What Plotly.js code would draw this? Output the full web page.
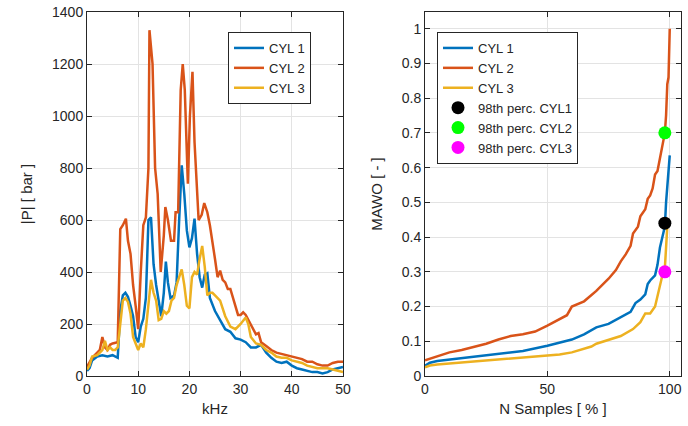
<!DOCTYPE html>
<html><head><meta charset="utf-8">
<script src="https://cdn.plot.ly/plotly-3.0.1.min.js"></script>
<style>html,body{margin:0;padding:0;background:#fff}#chart{width:688px;height:426px}</style>
</head><body><div id="chart"></div>
<script>
// ---- Left panel: spectrum |P| vs kHz ----
const cyl1F = [0,0.5,1,2,3,4,5,5.5,6,6.5,7,7.5,8,8.5,9,9.5,10,10.5,11,11.5,12,12.5,13,13.5,14,14.5,15,15.4,15.8,16.3,17,17.5,18,18.5,19,19.5,20,20.5,21,21.5,22,22.5,23,23.5,24,25,26,27,28,29,30,31,32,33,34,35,36,37,38,39,40,41,42,43,44,45,46,47,48,49,50];
const cyl1P = [20,30,60,75,80,75,80,75,70,250,310,320,305,270,230,150,130,190,220,300,600,610,430,350,290,230,320,440,360,300,310,360,600,810,700,560,495,530,605,470,380,340,390,395,300,250,215,180,170,145,140,130,110,110,120,90,70,55,50,55,40,30,25,20,15,15,10,15,25,30,35];

const cyl2F = [0,1,2,2.5,3,3.5,4,4.5,5,6,6.5,7,7.6,8,8.5,9,9.5,10,10.5,11,11.5,12,12.2,12.8,13.3,13.8,14.4,15,15.3,15.8,16.4,17,17.3,17.8,18.3,18.7,19.1,19.7,20.1,20.6,21,21.8,22.4,22.9,23.5,24,25,25.5,26,26.5,27,27.5,28,28.5,29,29.5,30,30.5,31,32,33,33.5,34,35,36,37,38,39,40,41,42,43,44,45,46,47,48,49,50];
const cyl2P = [35,70,90,100,150,110,100,120,125,130,565,580,605,520,470,350,270,180,400,580,610,800,1330,1200,800,700,400,540,650,600,520,520,630,630,1100,1200,1100,740,1000,1170,900,600,620,665,630,580,450,380,405,370,360,335,335,300,265,235,235,245,235,195,160,165,130,115,100,90,85,80,75,70,65,55,55,45,40,40,50,55,55];

const cyl3F = [0,0.5,1,2,3,3.5,4,4.5,5,5.5,6,6.5,7,7.5,8,8.5,9,9.5,10,10.5,11,11.5,12,12.5,13,13.5,14,14.5,15,15.5,16,16.5,17,17.5,18,18.5,19,19.5,20,20.5,21,21.5,22,22.5,23,23.5,24,24.5,25,26,27,28,29,30,31,31.5,32,33,34,35,36,37,38,39,40,41,42,43,44,45,46,47,48,49,50];
const cyl3P = [25,40,75,80,100,135,100,110,100,100,110,200,290,300,285,240,150,125,100,125,110,180,290,370,320,290,215,220,250,240,250,290,300,350,380,410,350,270,260,380,400,390,450,500,420,310,320,320,310,290,230,190,180,200,225,200,150,125,120,100,90,75,70,70,60,55,50,40,35,30,30,30,25,20,15];

// ---- Right panel: sorted MAWO vs N Samples [%] ----
const mawo1X = [0,2,5,10,20,30,40,50,55,60,65,70,75,80,84,86,88,90,91,92,94,95,96,97,98,98.5,99,100];
const mawo1Y = [0.03,0.038,0.043,0.047,0.055,0.065,0.072,0.087,0.095,0.105,0.12,0.14,0.15,0.17,0.185,0.21,0.22,0.235,0.265,0.275,0.29,0.32,0.37,0.4,0.43,0.5,0.55,0.635];

const mawo2X = [0,2,5,10,15,20,25,30,35,40,45,50,55,58,60,65,70,75,78,80,82,84,85,87,88,90,91,92,93,94,95,96,97,98,98.5,99,99.5,100];
const mawo2Y = [0.045,0.05,0.057,0.068,0.075,0.083,0.093,0.105,0.115,0.12,0.128,0.145,0.165,0.175,0.2,0.215,0.245,0.28,0.305,0.33,0.35,0.375,0.41,0.43,0.46,0.48,0.51,0.52,0.54,0.58,0.59,0.63,0.67,0.70,0.75,0.84,0.86,1.0];

const mawo3X = [0,2,5,10,20,30,40,50,55,60,65,68,70,75,80,85,88,90,92,94,95,96,97,98,98.5,99,100];
const mawo3Y = [0.025,0.03,0.033,0.036,0.041,0.046,0.052,0.058,0.062,0.068,0.078,0.085,0.093,0.103,0.115,0.135,0.155,0.18,0.18,0.2,0.23,0.26,0.29,0.31,0.37,0.43,0.44];

const seriesNames = ['CYL 1','CYL 2','CYL 3'];
const percNames = ['98th perc. CYL1','98th perc. CYL2','98th perc. CYL3'];
const percX = [98,98,98];
const percY = [0.44,0.70,0.30];

const colors = ['#0072BD','#D95319','#EDB120'];
const markerColors = ['#000000','#00FF00','#FF00FF'];

const FONT = 'Liberation Sans, Arial, Helvetica, sans-serif';
const TXT = '#262626';

const traces = [];
const leftF = [cyl1F, cyl2F, cyl3F], leftP = [cyl1P, cyl2P, cyl3P];
for (let i = 0; i < 3; i++) {
  traces.push({x: leftF[i], y: leftP[i], type: 'scatter', mode: 'lines', name: seriesNames[i],
    line: {color: colors[i], width: 2.5}, xaxis: 'x', yaxis: 'y', legend: 'legend'});
}
const rx = [mawo1X, mawo2X, mawo3X], ry = [mawo1Y, mawo2Y, mawo3Y];
for (let i = 0; i < 3; i++) {
  traces.push({x: rx[i], y: ry[i], type: 'scatter', mode: 'lines', name: seriesNames[i],
    line: {color: colors[i], width: 2.5}, xaxis: 'x2', yaxis: 'y2', legend: 'legend2'});
}
for (let i = 0; i < 3; i++) {
  traces.push({x: [percX[i]], y: [percY[i]], type: 'scatter', mode: 'markers', name: percNames[i],
    marker: {color: markerColors[i], size: 13}, xaxis: 'x2', yaxis: 'y2', legend: 'legend2'});
}

const axBase = {
  showline: true, linecolor: '#262626', linewidth: 1, mirror: 'ticks',
  ticks: 'inside', ticklen: 5, tickcolor: '#262626', tickwidth: 1,
  showgrid: true, gridcolor: '#e3e3e3', gridwidth: 1, zeroline: false,
  tickfont: {family: FONT, size: 14, color: TXT}
};

const layout = {
  width: 688, height: 426,
  margin: {l: 0, r: 0, t: 12, b: 50},
  paper_bgcolor: '#fff', plot_bgcolor: '#fff',
  showlegend: true,
  xaxis: Object.assign({}, axBase, {domain: [87/688, 343/688], range: [0, 50], dtick: 10,
    title: {text: 'kHz', font: {family: FONT, size: 15, color: TXT}, standoff: 7}}),
  yaxis: Object.assign({}, axBase, {range: [0, 1400], dtick: 200,
    title: {text: '|P| [ bar ]', font: {family: FONT, size: 15, color: TXT}, standoff: 15}}),
  xaxis2: Object.assign({}, axBase, {domain: [425/688, 681/688], range: [0, 104.6], tickvals: [0, 50, 100], anchor: 'y2',
    title: {text: 'N Samples [ % ]', font: {family: FONT, size: 15, color: TXT}, standoff: 7}}),
  yaxis2: Object.assign({}, axBase, {range: [0, 1.048], dtick: 0.1, anchor: 'x2',
    title: {text: 'MAWO [ - ]', font: {family: FONT, size: 15, color: TXT}, standoff: 15}}),
  legend: {x: 228/688, y: 1 - 20/364, xanchor: 'left', yanchor: 'top', xref: 'paper', yref: 'paper',
    bgcolor: '#fff', bordercolor: '#262626', borderwidth: 1,
    font: {family: FONT, size: 13, color: TXT}, tracegroupgap: 0, itemwidth: 30},
  legend2: {x: 437/688, y: 1 - 20/364, xanchor: 'left', yanchor: 'top', xref: 'paper', yref: 'paper',
    bgcolor: '#fff', bordercolor: '#262626', borderwidth: 1,
    font: {family: FONT, size: 13, color: TXT}, tracegroupgap: 0, itemwidth: 30}
};

Plotly.newPlot('chart', traces, layout, {staticPlot: true, displayModeBar: false});
</script>
</body></html>
